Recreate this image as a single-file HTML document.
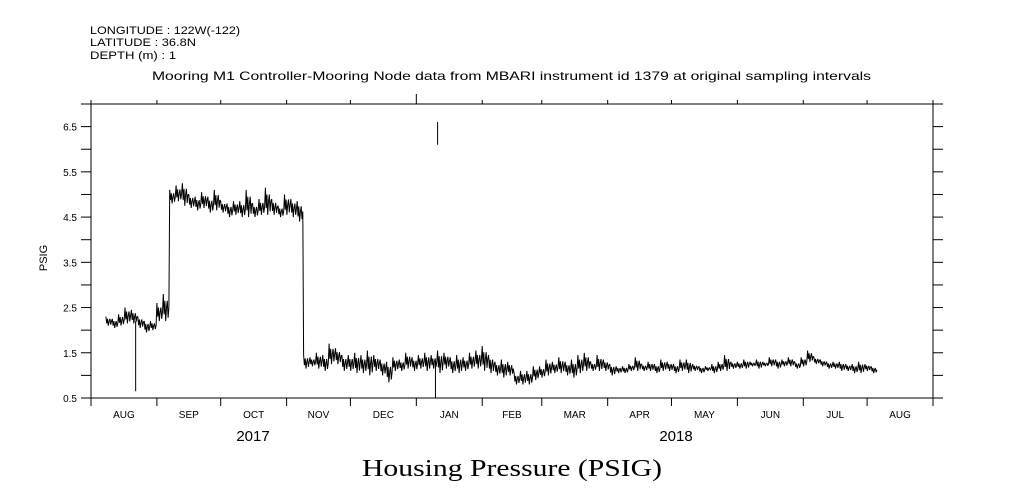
<!DOCTYPE html>
<html><head><meta charset="utf-8"><style>
body{margin:0;background:#fff;}
svg{display:block;font-family:"Liberation Sans",sans-serif;}
</style></head><body>
<svg id="chart" width="1009" height="504" viewBox="0 0 1009 504">
<g font-size="11" fill="#000">
<text x="90" y="34" textLength="150" lengthAdjust="spacingAndGlyphs">LONGITUDE : 122W(-122)</text>
<text x="90" y="46" textLength="106" lengthAdjust="spacingAndGlyphs">LATITUDE : 36.8N</text>
<text x="90" y="59" textLength="86" lengthAdjust="spacingAndGlyphs">DEPTH (m) : 1</text>
<text x="152" y="80" font-size="12" textLength="719" lengthAdjust="spacingAndGlyphs">Mooring M1 Controller-Mooring Node data from MBARI instrument id 1379 at original sampling intervals</text>
<text transform="translate(47,258) rotate(-90)" text-anchor="middle" font-size="11">PSIG</text>
<text x="253" y="441" text-anchor="middle" font-size="15">2017</text>
<text x="676" y="441" text-anchor="middle" font-size="15">2018</text>
<text x="362" y="476" font-size="24" font-family="'Liberation Serif',serif" textLength="300" lengthAdjust="spacingAndGlyphs">Housing Pressure (PSIG)</text>
</g>
<g id="axes" stroke="#000" stroke-width="1" fill="none"></g>
<g id="labels" font-size="10" fill="#000"></g>
<g id="series" stroke="#000" stroke-width="1" fill="none"></g>
</svg>
<script>
const months = ["AUG","SEP","OCT","NOV","DEC","JAN","FEB","MAR","APR","MAY","JUN","JUL","AUG"];
const monthStartDays = [0,31,61,92,122,153,184,212,243,273,304,335,365,396];
const yTickLabels = ["0.5","1.5","2.5","3.5","4.5","5.5","6.5"];
const days = [7,10,13,16,19,22,25,28,31,34,37,40,43,46,49,52,55,58,61,64,67,70,73,76,79,82,85,88,91,94,97,100,103,106,109,112,115,118,121,124,127,130,133,136,139,142,145,148,151,154,157,160,163,166,169,172,175,178,181,184,187,190,193,196,199,202,205,208,211,214,217,220,223,226,229,232,235,238,241,244,247,250,253,256,259,262,265,268,271,274,277,280,283,286,289,292,295,298,301,304,307,310,313,316,319,322,325,328,331,334,337,340,343,346,349,352,355,358,361,364,367];
const lowValues = [2.1,2.05,2.1,2.15,2.15,2.05,1.95,2.0,2.2,2.2,4.8,4.85,4.75,4.7,4.65,4.7,4.6,4.65,4.6,4.5,4.55,4.5,4.5,4.5,4.55,4.55,4.55,4.5,4.55,4.5,4.4,1.15,1.2,1.15,1.1,1.25,1.25,1.1,1.1,1.05,1.05,1.0,1.1,1.0,0.85,1.1,1.1,1.15,1.1,1.15,1.1,1.15,1.05,1.15,1.05,1.05,1.1,1.15,1.15,1.1,1.05,1.0,0.95,1.0,0.8,0.8,0.8,0.9,0.95,1.0,1.05,1.05,1.0,0.95,1.05,1.1,1.1,1.1,1.1,1.0,1.05,1.05,1.1,1.1,1.1,1.1,1.05,1.1,1.1,1.05,1.1,1.05,1.1,1.05,1.1,1.05,1.1,1.1,1.15,1.15,1.15,1.2,1.15,1.2,1.2,1.15,1.2,1.2,1.15,1.2,1.3,1.25,1.2,1.15,1.15,1.1,1.1,1.05,1.05,1.1,1.05];
const highValues = [2.3,2.25,2.35,2.5,2.45,2.3,2.2,2.2,2.6,2.8,5.1,5.2,5.25,5.0,4.95,5.05,4.95,5.1,4.85,4.8,4.85,4.85,5.1,4.8,4.9,5.15,4.9,4.75,5.0,4.9,4.85,1.45,1.4,1.5,1.45,1.7,1.6,1.45,1.45,1.5,1.45,1.55,1.45,1.35,1.3,1.4,1.35,1.5,1.4,1.45,1.5,1.45,1.55,1.5,1.4,1.45,1.4,1.5,1.55,1.65,1.45,1.3,1.35,1.3,1.05,1.1,1.1,1.2,1.2,1.35,1.3,1.4,1.3,1.35,1.45,1.5,1.3,1.45,1.35,1.25,1.2,1.2,1.25,1.4,1.25,1.3,1.25,1.35,1.3,1.25,1.35,1.35,1.25,1.2,1.2,1.25,1.3,1.45,1.3,1.3,1.35,1.3,1.35,1.3,1.4,1.35,1.35,1.4,1.3,1.4,1.55,1.4,1.35,1.3,1.3,1.3,1.25,1.25,1.3,1.25,1.2];
const spikeDays = [21,162];
const spikeValues = [0.65,0.5];
const outlierDay = [163];
const outlierLow = [6.1];
const outlierHigh = [6.6];

const X0=91,X1=933,Y0=398,Y1=104,D0=0,D1=396,V0=0.5,V1=7.0;
const xs=d=>X0+(d-D0)/(D1-D0)*(X1-X0);
const ys=v=>Y0-(v-V0)/(V1-V0)*(Y0-Y1);
const NS="http://www.w3.org/2000/svg";
function mk(tag,parent,attrs){const e=document.createElementNS(NS,tag);for(const k in attrs)e.setAttribute(k,attrs[k]);parent.appendChild(e);return e;}
const ax=document.getElementById('axes'),lb=document.getElementById('labels'),se=document.getElementById('series');
const frame=mk('rect',ax,{x:X0,y:Y1,width:X1-X0,height:Y0-Y1});


monthStartDays.forEach((d,i)=>{
  const x=xs(d);
  const t=mk('line',ax,{x1:x,x2:x,y1:Y0,y2:Y0+8});
  
  
  const tt=mk('line',ax,{x1:x,x2:x,y1:Y1,y2:Y1-(d===153?10:4)});
  
  
  if(i<months.length){
    const l=mk('text',lb,{x:(xs(d)+xs(monthStartDays[i+1]))/2,y:Y0+20,'text-anchor':'middle'});
    l.textContent=months[i];
    
    
  }
});
for(let v=0.5;v<=7.0001;v+=0.5){
  const y=ys(v);
  const a=mk('line',ax,{x1:X0-10,x2:X0,y1:y,y2:y});
  
  
  const b=mk('line',ax,{x1:X1,x2:X1+10,y1:y,y2:y});
  
  
}
yTickLabels.forEach(s=>{
  const l=mk('text',lb,{x:X0-14,y:ys(parseFloat(s))+4,'text-anchor':'end'});
  l.textContent=s;
  
  
});
// dense hi/lo alternation within each sample interval
let pts=[];
days.forEach((d,i)=>{
  const hi=highValues[i],lo=lowValues[i];
  const mid=(hi+lo)/2, q=(hi-lo)/4;
  const seq=[hi,lo+q,mid+q,lo,mid,hi-q,lo+q*0.5,mid];
  const nextDay=i<days.length-1?days[i+1]:d+3;
  const step=(nextDay-d)/seq.length;
  seq.forEach((v,k)=>pts.push(xs(d+k*step).toFixed(1)+','+ys(v).toFixed(1)));
});
const line=mk('polyline',se,{points:pts.join(' '),'stroke-linejoin':'bevel'});


spikeDays.forEach((d,i)=>{
  const s=mk('line',se,{x1:xs(d),x2:xs(d),y1:ys(d<100?2.2:1.3),y2:ys(spikeValues[i])});
  
  
});
outlierDay.forEach((d,i)=>{
  const o=mk('line',se,{x1:xs(d),x2:xs(d),y1:ys(outlierLow[i]),y2:ys(outlierHigh[i])});
  
  
});
</script>
</body></html>
